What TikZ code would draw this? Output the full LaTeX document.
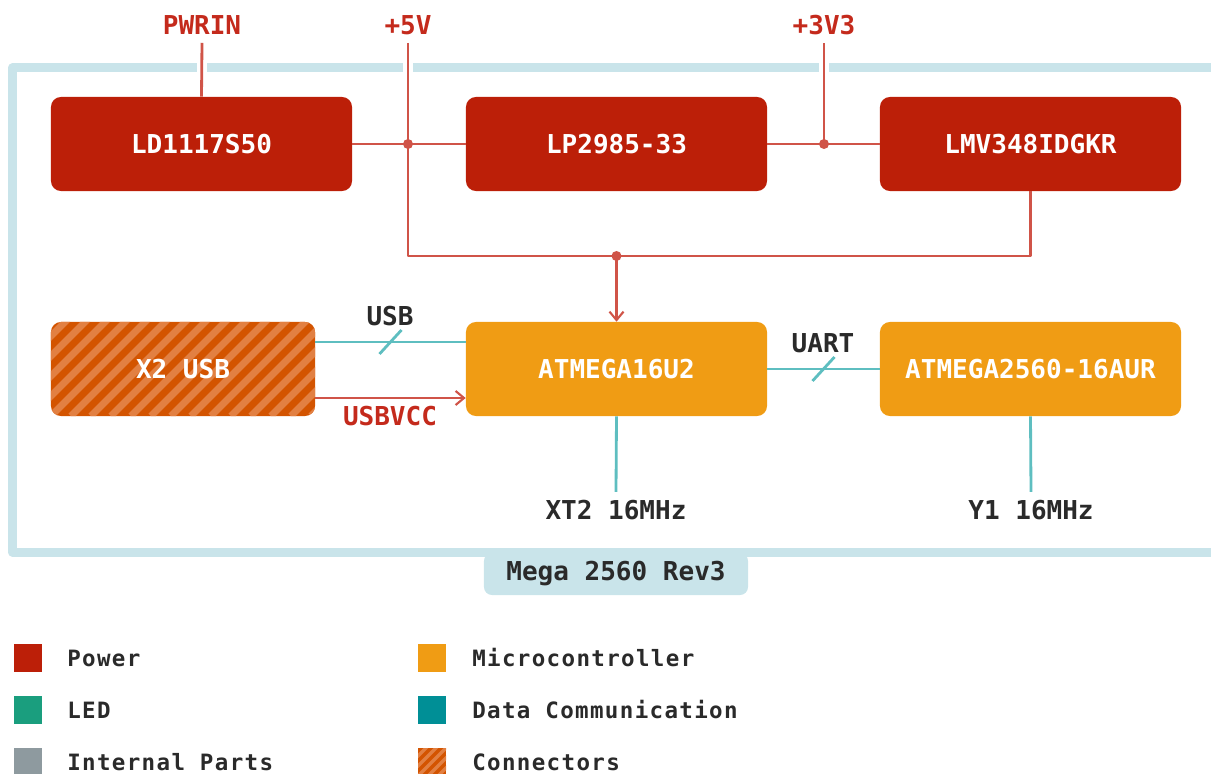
\documentclass[tikz,border=0pt]{standalone}
\usepackage{fontspec}
\setmonofont{DejaVu Sans Mono}
\newfontfamily\legendfont[LetterSpace=6]{DejaVu Sans Mono}
\usepackage{tikz}
\usetikzlibrary{arrows.meta,calc}
\definecolor{pwr}{RGB}{188,31,8}
\definecolor{mcu}{RGB}{240,156,20}
\definecolor{connd}{RGB}{211,84,0}
\definecolor{connl}{RGB}{226,128,66}
\definecolor{pwrline}{RGB}{208,84,72}
\definecolor{pwrtext}{RGB}{196,42,28}
\definecolor{dataline}{RGB}{94,190,192}
\definecolor{frcol}{RGB}{201,228,234}
\definecolor{ink}{RGB}{42,42,42}
\definecolor{led}{RGB}{26,158,126}
\definecolor{gry}{RGB}{142,154,159}
\definecolor{dcom}{RGB}{0,143,150}
\newcommand\boxfont{\ttfamily\bfseries\fontsize{18.5}{20}\selectfont}
\newcommand\keyfont{\legendfont\bfseries\fontsize{16}{18}\selectfont}

\begin{document}
\begin{tikzpicture}[x=0.025cm,y=-0.025cm,line cap=butt,line join=round,
  blk/.style={rounded corners=0.25cm,minimum width=7.525cm,minimum height=2.35cm,inner sep=0pt,text=white,font=\boxfont},
  hatch/.style={fill=connd,path picture={
    \foreach \k in {-20,...,20}
      \draw[connl,line width={0.25*#1}] ($(path picture bounding box.south west)+(\k*#1,0)$) -- ++(150,-150);}},
  pline/.style={pwrline,line width=2pt},
  dline/.style={dataline,line width=2pt},
  plab/.style={pwrtext,font=\boxfont,inner sep=0.2cm},
  dlab/.style={ink,font=\boxfont,inner sep=0.2cm},
  barb/.style={-{Straight Barb[length=6pt,width=10pt,line width=1.5pt]}},
  keysq/.style={minimum size=0.7cm,inner sep=0pt},
  keytxt/.style={ink,font=\keyfont,anchor=west,inner sep=0pt}]
\useasboundingbox (0,0) rectangle (1211,774);

% board outline
\draw[frcol,line width=6.4pt] (12.5,68) rectangle (1240,552);
\foreach \x in {202,408,824}
    \fill[white] (\x-5,60) rectangle (\x+5,77);
\node[fill=frcol,rounded corners=0.2cm,minimum width=6.6cm,minimum height=1.05cm,font=\boxfont,text=ink] (board) at (616,574) {Mega 2560 Rev3};

% rails
\node[plab] (pwrin) at (202,25) {PWRIN};
\node[plab] (v5) at (408,25) {+5V};
\node[plab] (v33) at (824,25) {+3V3};

\node[blk,fill=pwr] (ld) at (201.5,144) {LD1117S50};
\node[blk,fill=pwr] (lp) at (616.5,144) {LP2985-33};
\node[blk,fill=pwr] (lmv) at (1030.5,144) {LMV348IDGKR};

\node[blk,hatch=20,minimum width=6.6cm] (x2) at (183,369) {X2 USB};
\node[blk,fill=mcu] (a16) at (616.5,369) {ATMEGA16U2};
\node[blk,fill=mcu] (a2560) at (1030.5,369) {ATMEGA2560-16AUR};

\coordinate (j5) at (v5 |- ld.east);
\coordinate (j33) at (v33 |- lp.east);
\coordinate (jb) at (a16 |- 0,256);

\draw[pline] (pwrin.south) -- (ld.north);
\draw[pline] (v33.south) -- (j33);
\draw[pline] (v5.south) -- (v5 |- jb) -| (lmv.south);
\draw[pline] (ld.east) -- (lp.west);
\draw[pline] (lp.east) -- (lmv.west);
\foreach \j in {j5,j33,jb}
    \fill[pwrline] (\j) circle (5);
\draw[pline,barb] (jb) -- (a16.north);

% usb
\coordinate (usbmid) at ($([yshift=0.675cm]x2.east)!0.5!([yshift=0.675cm]a16.west)$);
\draw[dline] ([yshift=0.675cm]x2.east) -- ([yshift=0.675cm]a16.west);
\draw[dline] (usbmid) ++(-11,12) -- ++(22,-24);
\node[dlab] (usb) at (390,316) {USB};
\draw[pline,barb] ([yshift=-0.725cm]x2.east) -- ([yshift=-0.725cm]a16.west);
\node[plab] (usbvcc) at (390,416) {USBVCC};

% uart
\coordinate (uartmid) at ($(a16.east)!0.5!(a2560.west)$);
\draw[dline] (a16.east) -- (a2560.west);
\draw[dline] (uartmid) ++(-11,12) -- ++(22,-24);
\node[dlab] (uart) at (823,343) {UART};

% clocks
\node[dlab] (xt2) at (616,510) {XT2 16MHz};
\node[dlab] (y1) at (1031,510) {Y1 16MHz};
\draw[dline] (a16.south) -- (xt2.north);
\draw[dline] (a2560.south) -- (y1.north);

% legend
\foreach \y/\c/\t in {658/pwr/Power,710/led/LED,762/gry/Internal Parts}{
    \node[keysq,fill=\c] (key\c) at (28,\y) {};
    \node[keytxt] (lbl\c) at (67,\y) {\t};
}
\foreach \y/\c/\t in {658/mcu/Microcontroller,710/dcom/Data Communication}{
    \node[keysq,fill=\c] (key\c) at (432,\y) {};
    \node[keytxt] (lbl\c) at (472,\y) {\t};
}
\node[keysq,hatch=10] (keyconn) at (432,762) {};
\node[keytxt] (lblconn) at (472,762) {Connectors};

\end{tikzpicture}
\end{document}
